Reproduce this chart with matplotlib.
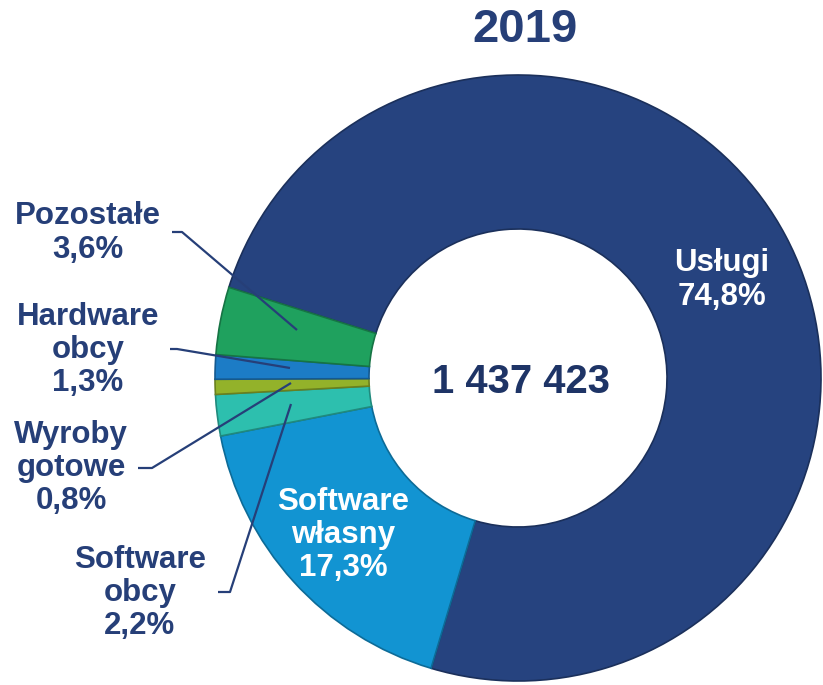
import matplotlib
matplotlib.use("Agg")
import matplotlib.pyplot as plt
import matplotlib.colors as mcolors

# ---- data ----
categories = ["Usługi", "Software własny", "Software obcy", "Wyroby gotowe", "Hardware obcy", "Pozostałe"]
values = [74.8, 17.3, 2.2, 0.8, 1.3, 3.6]
labels_pct = ["74,8%", "17,3%", "2,2%", "0,8%", "1,3%", "3,6%"]
total_text = "1 437 423"
title_text = "2019"

colors = ["#26437f", "#1294d2", "#2dbfae", "#93b22a", "#1c7cc6", "#1fa15e"]
navy = "#263f78"

W, H = 823, 685
fig = plt.figure(figsize=(W / 100, H / 100), dpi=100)
ax = fig.add_axes([0, 0, 1, 1])

def Y(y):
    return H - y

cx, cy = 518, Y(378)
R_out, R_in = 303, 149

wedges, _ = ax.pie(values, colors=colors, startangle=162.6, counterclock=False,
                   center=(cx, cy), radius=R_out,
                   wedgeprops=dict(width=R_out - R_in, linewidth=1.2))
for w, c in zip(wedges, colors):
    rgb = mcolors.to_rgb(c)
    w.set_edgecolor(tuple(v * 0.72 for v in rgb))
ax.set_xlim(0, W)
ax.set_ylim(0, H)
ax.set_aspect("equal")
ax.axis("off")

font = dict(family=["Liberation Sans", "DejaVu Sans"], fontweight="bold")
fs = 22.5

ax.text(525, Y(30), title_text, ha="center", va="center", color=navy, fontsize=34, **font)
ax.text(521, Y(382), total_text, ha="center", va="center", color="#1e3466", fontsize=28.8, **font)

# inside labels
ax.text(722, Y(280), f"{categories[0]}\n{labels_pct[0]}", ha="center", va="center",
        color="white", fontsize=fs, linespacing=1.15, **font)
ax.text(343, Y(535), "Software\nwłasny\n" + labels_pct[1], ha="center", va="center",
        color="white", fontsize=fs, linespacing=1.15, **font)

# outside labels
ax.text(88, Y(233), f"{categories[5]}\n{labels_pct[5]}", ha="center", va="center",
        color=navy, fontsize=fs, linespacing=1.2, **font)
ax.text(88, Y(350), "Hardware\nobcy\n" + labels_pct[4], ha="center", va="center",
        color=navy, fontsize=fs, linespacing=1.15, **font)
ax.text(71, Y(468), "Wyroby\ngotowe\n" + labels_pct[3], ha="center", va="center",
        color=navy, fontsize=fs, linespacing=1.15, **font)
ax.text(140, Y(593), "Software\nobcy\n" + labels_pct[2], ha="center", va="center",
        color=navy, fontsize=fs, linespacing=1.15, **font)

# leader lines
leaders = [
    [(172, 232), (182, 232), (297, 330)],
    [(170, 349), (177, 349), (290, 368)],
    [(138, 468), (152, 468), (291, 383)],
    [(218, 592), (230, 592), (291, 404)],
]
for pts in leaders:
    xs = [p[0] for p in pts]
    ys = [Y(p[1]) for p in pts]
    ax.plot(xs, ys, color="#263f78", lw=1.6, solid_capstyle="butt", zorder=5)

fig.savefig("out.png", dpi=100)
